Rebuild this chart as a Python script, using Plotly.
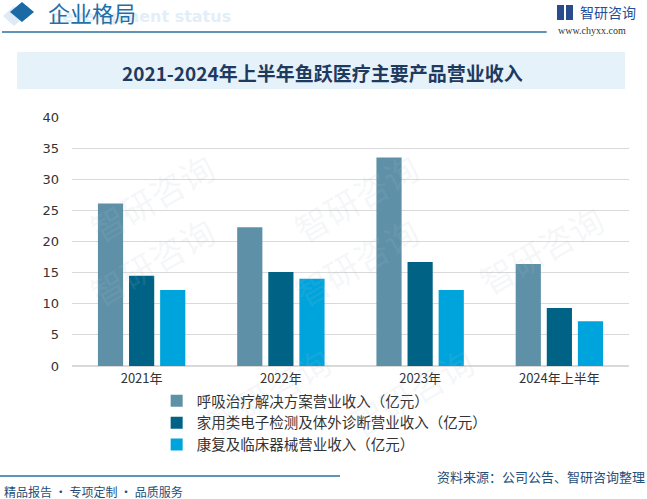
import plotly.graph_objects as go

categories = ["2021年", "2022年", "2023年", "2024年上半年"]
series_names = [
    "呼吸治疗解决方案营业收入（亿元）",
    "家用类电子检测及体外诊断营业收入（亿元）",
    "康复及临床器械营业收入（亿元）",
]
respiratory = [26.1, 22.3, 33.5, 16.4]
home_diag = [14.5, 15.1, 16.7, 9.3]
rehab = [12.2, 14.0, 12.2, 7.2]
colors = ["#5E91A8", "#006385", "#00A4DC"]
y_ticks = [0, 5, 10, 15, 20, 25, 30, 35, 40]

FONT = "Noto Sans CJK SC"

fig = go.Figure()
for name, vals, col in zip(series_names, [respiratory, home_diag, rehab], colors):
    fig.add_trace(go.Bar(x=categories, y=vals, name=name, marker_color=col,
                         marker_line_width=0))

fig.update_layout(
    width=647, height=499,
    margin=dict(l=72, r=18, t=117, b=133),
    paper_bgcolor="white", plot_bgcolor="rgba(0,0,0,0)",
    barmode="group", bargap=0.33, bargroupgap=0.19,
    font=dict(family=FONT, size=13, color="#333333"),
    showlegend=True,
    legend=dict(x=0.152, y=-0.076, xanchor="left", yanchor="top",
                orientation="v", font=dict(size=14.5, color="#333333"),
                tracegroupgap=0, bgcolor="rgba(0,0,0,0)"),
    xaxis=dict(showgrid=False, showline=True, linecolor="#d9d9d9", linewidth=1,
               ticks="", tickfont=dict(size=13, color="#333333", family=FONT)),
    yaxis=dict(range=[0, 40], tickvals=y_ticks, showgrid=True, gridcolor="#d9d9d9",
               gridwidth=1, zeroline=True, zerolinecolor="#d9d9d9", ticks="",
               ticklabelstandoff=12,
               tickfont=dict(size=13, color="#333333", family="DejaVu Sans")),
)

shapes = []
annotations = []

# watermarks (faint)
for (wx, wy) in [(0.12, 0.72), (0.55, 0.72), (0.12, 0.36), (0.55, 0.36), (0.95, 0.5), (0.3, 0.1), (0.75, 0.1)]:
    annotations.append(dict(xref="paper", yref="paper", x=wx, y=wy, text="智研咨询",
                            showarrow=False, textangle=-30,
                            font=dict(size=34, color="rgba(180,190,200,0.12)", family=FONT)))

# header
def diamond(cx, cy, hw, hh):
    return (f"M {cx/647} {1-(cy-hh)/499} L {(cx+hw)/647} {1-cy/499} "
            f"L {cx/647} {1-(cy+hh)/499} L {(cx-hw)/647} {1-cy/499} Z")

shapes.append(dict(type="path", xref="paper", yref="paper", path=diamond(14, 16, 11, 10),
                   fillcolor="rgba(200,222,240,0.6)", line=dict(width=0)))
shapes.append(dict(type="path", xref="paper", yref="paper", path=diamond(22, 12, 12, 10),
                   fillcolor="#1A6AA5", line=dict(width=0)))
annotations.append(dict(xref="paper", yref="paper", x=233/647, y=1-16/499, xanchor="right",
                        yanchor="middle", text="<b>development status</b>", showarrow=False,
                        font=dict(size=16, color="#E2EEF8", family="DejaVu Sans")))
annotations.append(dict(xref="paper", yref="paper", x=46/647, y=1-12/499, xanchor="left",
                        yanchor="middle", text="企业格局", showarrow=False,
                        font=dict(size=22, color="#1F6FA8", family=FONT)))
shapes.append(dict(type="line", xref="paper", yref="paper", x0=0.003, x1=0.845,
                   y0=0.936, y1=0.936, line=dict(color="#2A6FA0", width=1.5)))
# logo
shapes.append(dict(type="rect", xref="paper", yref="paper", x0=557/647, x1=573/647,
                   y0=1-20/499, y1=1-5/499, fillcolor="#2B4C8C", line=dict(width=0)))
shapes.append(dict(type="rect", xref="paper", yref="paper", x0=564/647, x1=566/647,
                   y0=1-20/499, y1=1-5/499, fillcolor="white", line=dict(width=0)))
annotations.append(dict(xref="paper", yref="paper", x=578/647, y=1-12/499, xanchor="left",
                        yanchor="middle", text="智研咨询", showarrow=False,
                        font=dict(size=14, color="#1F4E9A", family=FONT)))
annotations.append(dict(xref="paper", yref="paper", x=556/647, y=1-31/499, xanchor="left",
                        yanchor="middle", text="www.chyxx.com", showarrow=False,
                        font=dict(size=10, color="#333333", family="Liberation Serif")))

# title box
shapes.append(dict(type="rect", xref="paper", yref="paper", x0=17/647, x1=625/647,
                   y0=1-89/499, y1=1-52/499, fillcolor="#E6F2FA", line=dict(width=0)))
annotations.append(dict(xref="paper", yref="paper", x=322/647, y=1-72/499,
                        xanchor="center", yanchor="middle",
                        text="<b>2021-2024年上半年鱼跃医疗主要产品营业收入</b>", showarrow=False,
                        font=dict(size=19, color="#1F3A5F", family=FONT)))

# footer
shapes.append(dict(type="line", xref="paper", yref="paper", x0=0.0, x1=340/647,
                   y0=1-476/499, y1=1-476/499, line=dict(color="#2A6FA0", width=1.5)))
annotations.append(dict(xref="paper", yref="paper", x=1.0, y=1-477/499, xanchor="right",
                        yanchor="middle", text="资料来源：公司公告、智研咨询整理", showarrow=False,
                        font=dict(size=13, color="#1F4E79", family=FONT)))
annotations.append(dict(xref="paper", yref="paper", x=0.003, y=1-491/499, xanchor="left",
                        yanchor="middle", text="精品报告 · 专项定制 · 品质服务", showarrow=False,
                        font=dict(size=12, color="#1F4E79", family=FONT)))

# convert full-figure fractions to plot-area paper coords
W, H = 647, 499
L, R, T, B = 72, 18, 117, 133
pw, ph = W - L - R, H - T - B

def fx(v):
    return (v * W - L) / pw

def fy(v):
    return (v * H - B) / ph

for s in shapes:
    if s["type"] == "path":
        parts = s["path"].split()
        out = []
        i = 0
        while i < len(parts):
            if parts[i] in ("M", "L"):
                out += [parts[i], f"{fx(float(parts[i+1])):.4f}", f"{fy(float(parts[i+2])):.4f}"]
                i += 3
            else:
                out.append(parts[i]); i += 1
        s["path"] = " ".join(out)
    else:
        s["x0"], s["x1"] = fx(s["x0"]), fx(s["x1"])
        s["y0"], s["y1"] = fy(s["y0"]), fy(s["y1"])
    s["layer"] = "below"
for a in annotations:
    a["x"], a["y"] = fx(a["x"]), fy(a["y"])

fig.update_layout(shapes=shapes, annotations=annotations)
fig.write_html("out.html", config={"displayModeBar": False},
               post_script="document.body.style.margin='0';document.body.style.padding='0';")
